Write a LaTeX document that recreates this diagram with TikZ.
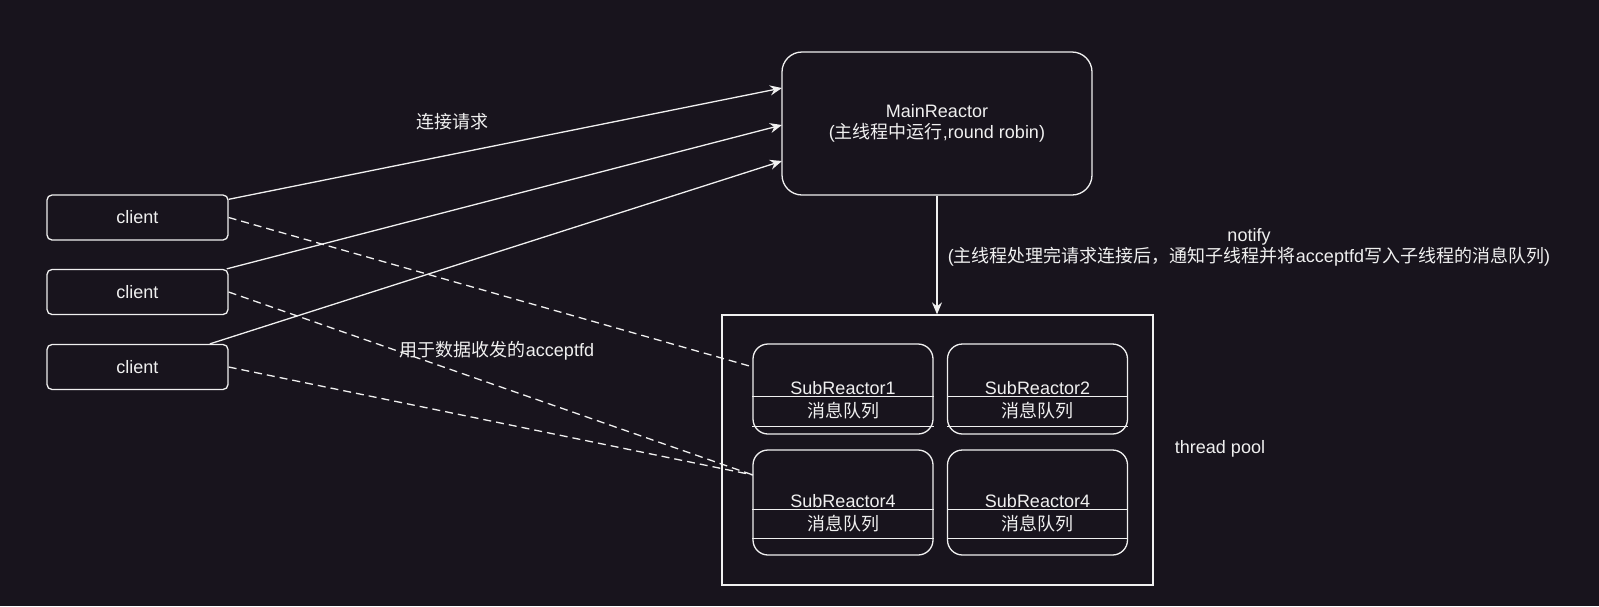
\documentclass[tikz,border=0pt]{standalone}
\usepackage{fontspec}
\setmainfont{Liberation Sans}
\newfontfamily\cjk{Noto Sans CJK SC}
\usetikzlibrary{arrows.meta,calc}
\definecolor{bg}{HTML}{18141D}
\definecolor{fg}{HTML}{F0F0F0}
\begin{document}
\begin{tikzpicture}[x=1pt,y=-1pt,
  every node/.style={text=fg, font=\fontsize{18}{21.6}\selectfont},
  clientbox/.style={draw=fg, line width=1.3pt, rounded corners=5pt, minimum width=181pt, minimum height=45pt, inner sep=0pt},
  mainbox/.style={draw=fg, line width=1.3pt, rounded corners=20pt, minimum width=310pt, minimum height=143pt, inner sep=0pt, align=center},
  subbox/.style={draw=fg, line width=1.3pt, rounded corners=15pt, minimum width=180pt, inner sep=0pt},
  poolbox/.style={draw=fg, line width=1.3pt, minimum width=431pt, minimum height=270pt, inner sep=0pt},
  conn/.style={draw=fg, line width=1.3pt},
  arr/.style={conn, -{Stealth[length=12pt,width=10pt,inset=4pt]}},
  dashconn/.style={conn, dash pattern=on 8pt off 5pt},
  lbl/.style={inner sep=0pt, align=center}
]
\path[fill=bg] (0,0) rectangle (1599,606);

% main reactor
\node[mainbox] (mr) at (937,123.5) {MainReactor\\({\cjk 主线程中运行},round robin)};

% clients
\node[clientbox] (c1) at (137.5,217.5) {client};
\node[clientbox] (c2) at (137.5,292) {client};
\node[clientbox] (c3) at (137.5,367) {client};

% thread pool
\node[poolbox] (tp) at (937.5,450) {};

% sub reactors
\node[subbox, minimum height=90pt] (s1) at (843,389) {};
\node[subbox, minimum height=90pt] (s2) at (1037.5,389) {};
\node[subbox, minimum height=105pt] (s3) at (843,502.5) {};
\node[subbox, minimum height=105pt] (s4) at (1037.5,502.5) {};

\draw[conn] ($(s1.north west)+(0,53)$) -- ($(s1.north east)+(0,53)$);
\draw[conn] ($(s1.north west)+(0,83)$) -- ($(s1.north east)+(0,83)$);
\draw[conn] ($(s2.north west)+(0,53)$) -- ($(s2.north east)+(0,53)$);
\draw[conn] ($(s2.north west)+(0,83)$) -- ($(s2.north east)+(0,83)$);
\draw[conn] ($(s3.north west)+(0,60)$) -- ($(s3.north east)+(0,60)$);
\draw[conn] ($(s3.north west)+(0,89)$) -- ($(s3.north east)+(0,89)$);
\draw[conn] ($(s4.north west)+(0,60)$) -- ($(s4.north east)+(0,60)$);
\draw[conn] ($(s4.north west)+(0,89)$) -- ($(s4.north east)+(0,89)$);

\node[lbl] (t1) at (843,388) {SubReactor1};
\node[lbl] (q1) at (843,411) {\cjk 消息队列};
\node[lbl] (t2) at (1037.5,388) {SubReactor2};
\node[lbl] (q2) at (1037.5,411) {\cjk 消息队列};
\node[lbl] (t3) at (843,501) {SubReactor4};
\node[lbl] (q3) at (843,524) {\cjk 消息队列};
\node[lbl] (t4) at (1037.5,501) {SubReactor4};
\node[lbl] (q4) at (1037.5,524) {\cjk 消息队列};

% connection points
\coordinate (m1) at (782,88);
\coordinate (m2) at (782,125);
\coordinate (m3) at (782,161);
\coordinate (d1) at (753,367);
\coordinate (d3) at (753,475);

% connectors
\draw[arr] (c1) -- (m1);
\draw[arr] (c2) -- (m2);
\draw[arr] (c3) -- (m3);
\draw[dashconn] (c1.east) -- (d1);
\draw[dashconn] (c2.east) -- (d3);
\draw[dashconn] (c3.east) -- (d3);
\draw[arr] (mr.south) -- (mr.south |- tp.north);

% labels
\node[lbl] (l1) at (452,122) {\cjk 连接请求};
\node[lbl] (l2) at (497,351) {{\cjk 用于数据收发的}acceptfd};
\node[lbl] (l3) at (1220,449) {thread pool};
\node[lbl] (l4) at (1249,247.5) {notify\\({\cjk 主线程处理完请求连接后，通知子线程并将}acceptfd{\cjk 写入子线程的消息队列})};
\end{tikzpicture}
\end{document}
